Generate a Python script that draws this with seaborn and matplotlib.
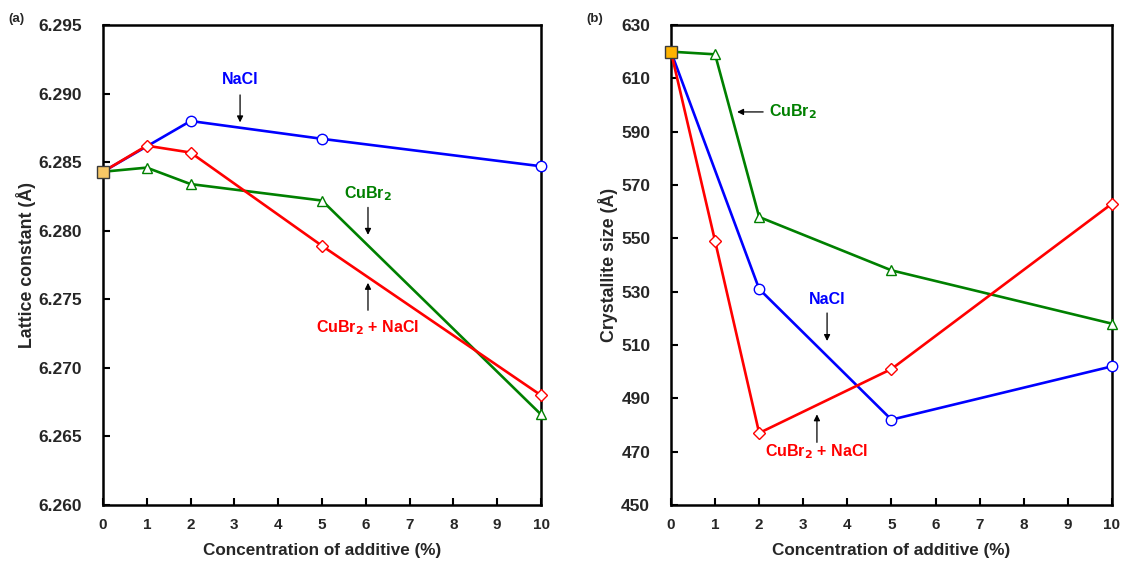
import numpy as np
import matplotlib
matplotlib.use("Agg")
import matplotlib.pyplot as plt
import seaborn as sns

# Additive concentrations (%)
conc = [0, 1, 2, 5, 10]
conc_nacl = [0, 2, 5, 10]

# (a) Lattice constant (Å)
lattice_nacl = [6.2843, 6.2880, 6.2867, 6.2847]
lattice_cubr2 = [6.2843, 6.2846, 6.2834, 6.2822, 6.2666]
lattice_mix = [6.2843, 6.2862, 6.2857, 6.2789, 6.2680]

# (b) Crystallite size (Å)
size_nacl = [620, 531, 482, 502]
size_cubr2 = [620, 619, 558, 538, 518]
size_mix = [620, 549, 477, 501, 563]

xticks = list(range(0, 11))
yticks_a = [6.260, 6.265, 6.270, 6.275, 6.280, 6.285, 6.290, 6.295]
yticks_b = [450, 470, 490, 510, 530, 550, 570, 590, 610, 630]

BLUE = "#0000FF"
RED = "#FF0000"
GREEN = "#008000"

sns.set_theme(style="white")
plt.rcParams["font.family"] = ["Liberation Sans", "DejaVu Sans"]
plt.rcParams["font.weight"] = "bold"
plt.rcParams["mathtext.default"] = "bf"

fig = plt.figure(figsize=(11.29, 5.63), dpi=100)
ax_a = fig.add_axes([0.0912, 0.1030, 0.3880, 0.8526])
ax_b = fig.add_axes([0.5943, 0.1030, 0.3906, 0.8526])


def series(ax, x, y, color, marker, ms, z):
    sns.lineplot(x=x, y=y, ax=ax, color=color, lw=1.9, marker=marker,
                 markersize=ms, markerfacecolor="white",
                 markeredgecolor=color, markeredgewidth=1.0,
                 clip_on=False, zorder=z)


def style_axes(ax, yticks, fmt):
    ax.set_xlim(0, 10)
    ax.set_ylim(yticks[0], yticks[-1])
    ax.set_xticks(xticks)
    ax.set_yticks(yticks)
    ax.set_yticklabels([fmt.format(v) for v in yticks])
    for s in ax.spines.values():
        s.set_color("black")
        s.set_linewidth(1.8)
    ax.tick_params(axis="both", direction="in", length=5, width=1.5,
                   color="black", left=True, bottom=True)
    ax.tick_params(axis="x", labelsize=11, pad=9)
    ax.tick_params(axis="y", labelsize=12.5, pad=15)
    for lab in ax.get_xticklabels() + ax.get_yticklabels():
        lab.set_fontweight("bold")
    ax.set_xlabel("Concentration of additive (%)", fontsize=12.3,
                  fontweight="bold", labelpad=8)
    ax.grid(False)


def note(ax, text, color, xy_text, tail, head):
    ax.text(*xy_text, text, color=color, fontsize=11.5, fontweight="bold",
            ha="center", va="center")
    ax.annotate("", xy=head, xytext=tail,
                arrowprops=dict(arrowstyle="-|>", color="black", lw=0.9,
                                mutation_scale=9, shrinkA=0, shrinkB=0))


# ---- (a) lattice constant ----
series(ax_a, conc, lattice_cubr2, GREEN, "^", 7.5, 3)
series(ax_a, conc_nacl, lattice_nacl, BLUE, "o", 7.5, 4)
series(ax_a, conc, lattice_mix, RED, "D", 6, 5)
ax_a.plot([0], [lattice_mix[0]], marker="s", ms=9, mfc="#F7C766",
          mec="#3a3a3a", mew=1.0, ls="none", clip_on=False, zorder=10)
style_axes(ax_a, yticks_a, "{:.3f}")
ax_a.set_ylabel("Lattice constant (Å)", fontsize=12.8, fontweight="bold",
                labelpad=2)

note(ax_a, "NaCl", BLUE, (3.13, 6.2910), (3.13, 6.2899), (3.13, 6.2879))
note(ax_a, "CuBr$_{2}$", GREEN, (6.05, 6.2827),
     (6.05, 6.2817), (6.05, 6.2797))
note(ax_a, "CuBr$_{2}$ + NaCl", RED, (6.05, 6.2729),
     (6.05, 6.2742), (6.05, 6.2762))

# ---- (b) crystallite size ----
series(ax_b, conc, size_cubr2, GREEN, "^", 7.5, 3)
series(ax_b, conc_nacl, size_nacl, BLUE, "o", 7.5, 4)
series(ax_b, conc, size_mix, RED, "D", 6, 5)
ax_b.plot([0], [size_mix[0]], marker="s", ms=9, mfc="#FFB300",
          mec="#3a3a3a", mew=1.0, ls="none", clip_on=False, zorder=10)
style_axes(ax_b, yticks_b, "{:d}")
ax_b.set_ylabel("Crystallite size (Å)", fontsize=12.8, fontweight="bold",
                labelpad=2)

note(ax_b, "CuBr$_{2}$", GREEN, (2.77, 597.4), (2.09, 597.4),
     (1.50, 597.4))
note(ax_b, "NaCl", BLUE, (3.54, 527), (3.54, 522), (3.54, 511.5))
note(ax_b, "CuBr$_{2}$ + NaCl", RED, (3.31, 470), (3.31, 473.5),
     (3.31, 484))

fig.text(0.007, 0.966, "(a)", fontsize=9.5, fontweight="bold", va="center")
fig.text(0.519, 0.966, "(b)", fontsize=9.5, fontweight="bold", va="center")

fig.savefig("out.png", dpi=100)
